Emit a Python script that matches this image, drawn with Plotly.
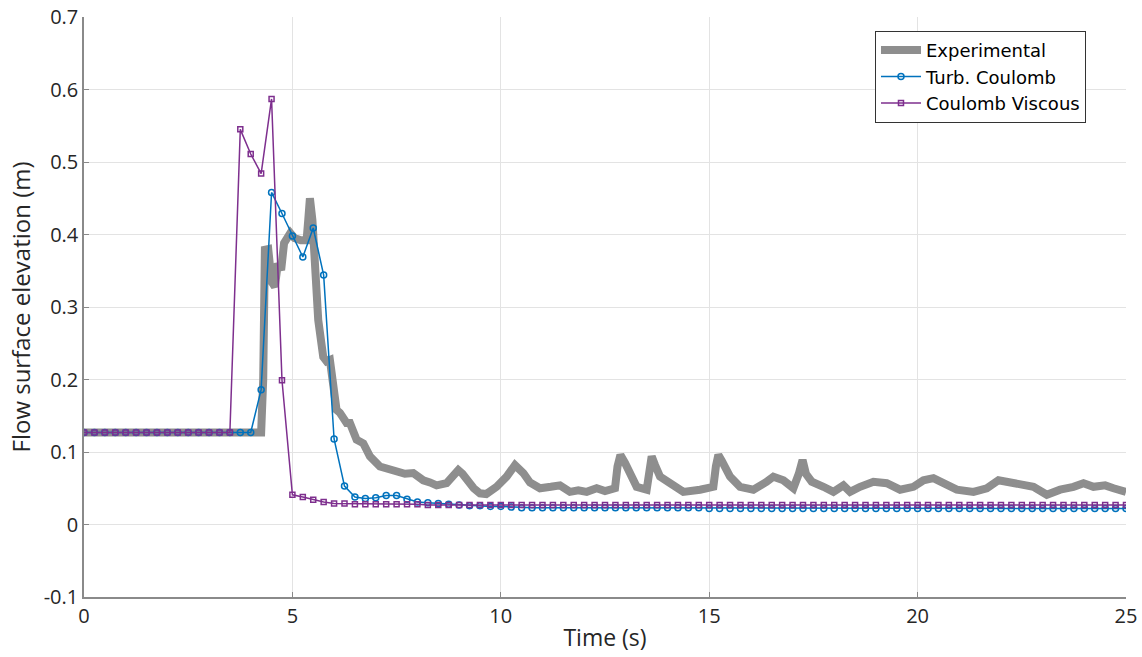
import numpy as np
import plotly.graph_objects as go

# Experimental series (time s, elevation m)
exp_time = [0, 4.25, 4.3, 4.34, 4.42, 4.5, 4.58, 4.65, 4.73, 4.8, 4.95, 5.05, 5.2, 5.34, 5.38,
            5.42, 5.48, 5.54, 5.62, 5.74, 5.82, 5.9, 5.98, 6.06, 6.14, 6.3, 6.38, 6.54, 6.7,
            6.86, 7.1, 7.3, 7.5, 7.7, 7.9, 8.14, 8.3, 8.46, 8.7, 8.85, 8.98, 9.08, 9.18, 9.35,
            9.5, 9.65, 9.9, 10.14, 10.34, 10.54, 10.7, 10.94, 11.2, 11.42, 11.66, 11.86, 12.06,
            12.3, 12.5, 12.74, 12.8, 12.87, 12.98, 13.1, 13.26, 13.5, 13.56, 13.62, 13.7, 13.82,
            14.06, 14.38, 14.78, 15.1, 15.16, 15.22, 15.3, 15.5, 15.74, 16.06, 16.38, 16.54,
            16.78, 17.02, 17.15, 17.24, 17.32, 17.46, 17.74, 17.98, 18.22, 18.38, 18.62, 18.94,
            19.26, 19.58, 19.9, 20.14, 20.38, 20.62, 20.94, 21.34, 21.66, 21.94, 22.14, 22.46,
            22.78, 23.1, 23.42, 23.74, 23.98, 24.22, 24.5, 24.7, 25.0]
exp_elev = [0.127, 0.127, 0.20, 0.379, 0.38, 0.335, 0.328, 0.36, 0.351, 0.388, 0.402, 0.395,
            0.392, 0.392, 0.42, 0.450, 0.42, 0.356, 0.282, 0.231, 0.225, 0.227, 0.20, 0.158,
            0.154, 0.14, 0.14, 0.117, 0.112, 0.094, 0.080, 0.076, 0.073, 0.070, 0.071, 0.061,
            0.058, 0.054, 0.057, 0.068, 0.075, 0.070, 0.061, 0.050, 0.043, 0.042, 0.052, 0.066,
            0.082, 0.071, 0.058, 0.050, 0.052, 0.054, 0.045, 0.047, 0.045, 0.050, 0.046, 0.050,
            0.080, 0.096, 0.085, 0.071, 0.052, 0.048, 0.070, 0.094, 0.082, 0.066, 0.057, 0.045,
            0.048, 0.052, 0.080, 0.096, 0.088, 0.066, 0.052, 0.048, 0.059, 0.066, 0.061, 0.050,
            0.070, 0.089, 0.070, 0.059, 0.052, 0.045, 0.054, 0.045, 0.052, 0.059, 0.057, 0.048,
            0.052, 0.061, 0.064, 0.057, 0.048, 0.045, 0.050, 0.061, 0.059, 0.054, 0.052, 0.041,
            0.048, 0.052, 0.057, 0.052, 0.054, 0.050, 0.045]

# Simulation time grid (0 to 25 s, every 0.25 s)
sim_time = list(np.round(np.arange(0, 25.001, 0.25), 2))

turb_coulomb = ([0.127] * 17 +
                [0.186, 0.458, 0.429, 0.398, 0.369, 0.409, 0.344, 0.118, 0.053, 0.038, 0.036,
                 0.037, 0.040, 0.040, 0.035, 0.031, 0.030, 0.029, 0.028, 0.027, 0.026, 0.026,
                 0.025, 0.025, 0.024, 0.023] +
                [0.023] * 17 + [0.022] * 41)

coulomb_viscous = ([0.127] * 15 +
                   [0.545, 0.511, 0.484, 0.587, 0.199, 0.041, 0.038, 0.034, 0.031, 0.029, 0.029] +
                   [0.028] * 7 + [0.027] * 68)

y_ticks = [-0.1, 0, 0.1, 0.2, 0.3, 0.4, 0.5, 0.6, 0.7]
y_tick_text = ["-0.1", "0", "0.1", "0.2", "0.3", "0.4", "0.5", "0.6", "0.7"]
x_ticks = [0, 5, 10, 15, 20, 25]

font_family = "Open Sans"

fig = go.Figure()
fig.add_trace(go.Scatter(x=exp_time, y=exp_elev, mode="lines", name="Experimental",
                         line=dict(color="#8e8e8e", width=8)))
fig.add_trace(go.Scatter(x=sim_time, y=turb_coulomb, mode="lines+markers", name="Turb. Coulomb",
                         line=dict(color="#0072BD", width=1.5),
                         marker=dict(symbol="circle-open", size=6, color="#0072BD",
                                     line=dict(width=1.5))))
fig.add_trace(go.Scatter(x=sim_time, y=coulomb_viscous, mode="lines+markers", name="Coulomb Viscous",
                         line=dict(color="#7E2F8E", width=1.5),
                         marker=dict(symbol="square-open", size=5, color="#7E2F8E",
                                     line=dict(width=1.5))))

fig.update_layout(
    width=1142, height=657,
    margin=dict(l=84, r=16, t=17, b=60, autoexpand=False),
    paper_bgcolor="white", plot_bgcolor="white",
    font=dict(family=font_family, size=20, color="#262626"),
    showlegend=True,
    legend=dict(x=0.9616, y=0.976, xanchor="right", yanchor="top",
                bgcolor="white", bordercolor="#333333", borderwidth=1,
                font=dict(family="DejaVu Sans", size=18, color="#000000"),
                tracegroupgap=0, itemwidth=40),
)
fig.update_xaxes(range=[0, 25], tickvals=x_ticks, ticks="inside", ticklen=5,
                 tickcolor="#888888", showline=True, linecolor="#8a8a8a", linewidth=1.5,
                 showgrid=True, gridcolor="#e3e3e3", gridwidth=1, zeroline=False,
                 automargin=False,
                 title=dict(text="Time (s)", standoff=2, font=dict(size=23)),
                 tickfont=dict(size=20, color="#262626"))
fig.update_yaxes(range=[-0.1, 0.7], tickvals=y_ticks, ticktext=y_tick_text, ticks="inside",
                 ticklen=5, tickcolor="#888888", showline=True, linecolor="#8a8a8a",
                 linewidth=1.5, showgrid=True, gridcolor="#e3e3e3", gridwidth=1, zeroline=False,
                 automargin=False,
                 title=dict(text="Flow surface elevation (m)", standoff=6, font=dict(size=24)),
                 tickfont=dict(size=20, color="#262626"))

fig.write_html("out.html")
